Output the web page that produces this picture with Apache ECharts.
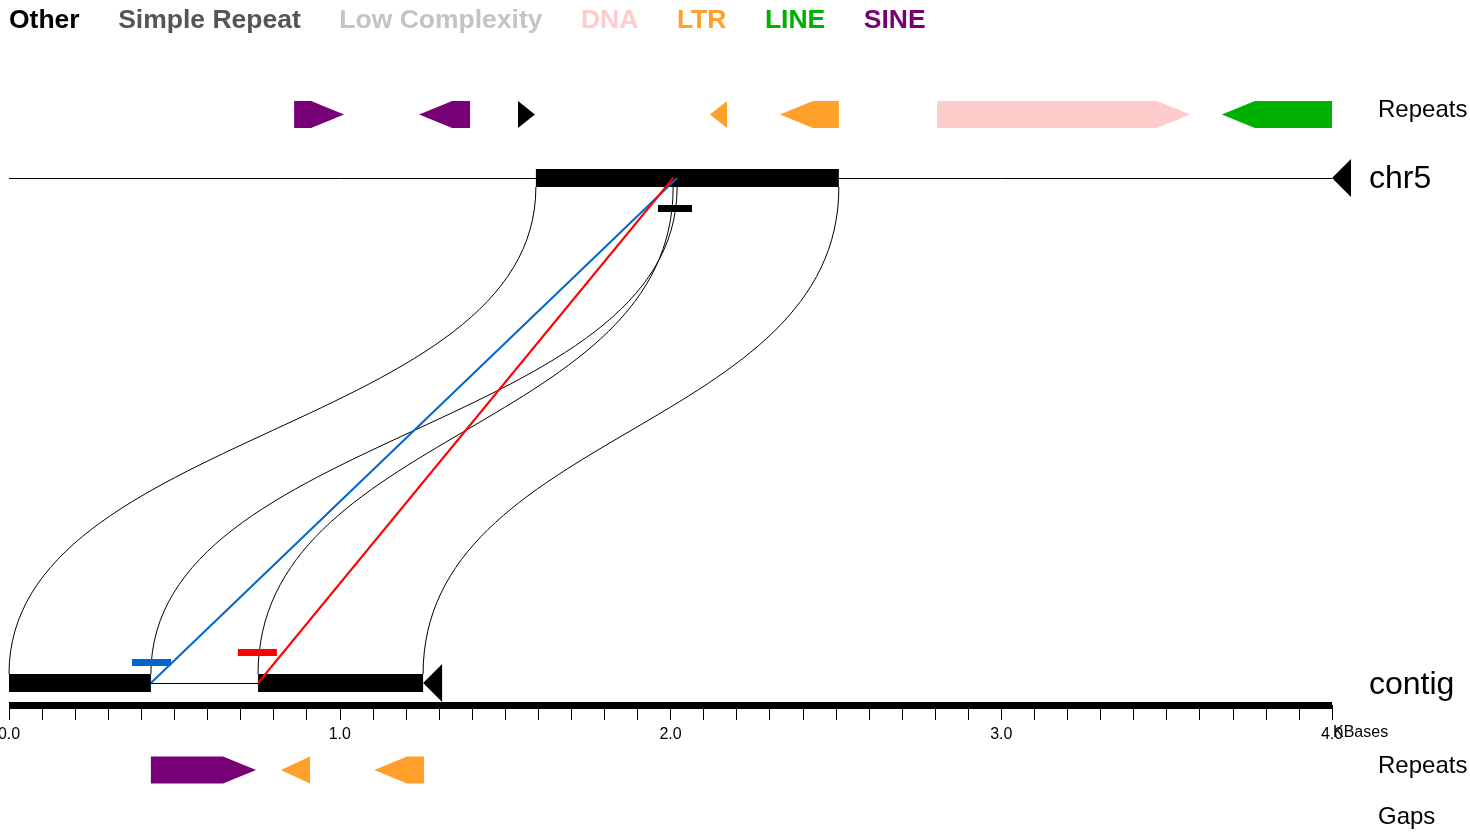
<!DOCTYPE html>
<html><head><meta charset="utf-8">
<script src="https://cdn.jsdelivr.net/npm/echarts@6/dist/echarts.min.js"></script>
<style>html,body{margin:0;padding:0;background:#fff}#c{width:1470px;height:834px}</style>
</head><body><div id="c"></div>
<script>
// ---------------- data (kilobases) ----------------
const repeatClasses = ['Other', 'Simple Repeat', 'Low Complexity', 'DNA', 'LTR', 'LINE', 'SINE'];
const classColors   = ['#000000', '#555555', '#c4c4c4', '#ffcccc', '#ffa02a', '#00b000', '#770077'];

const refName = 'chr5';
const refRange = [0, 4.0];
const refBlocks = [[1.593, 2.509]];
// [start, end, strand(+1/-1), class]
const refRepeats = [
  [0.862, 1.013,  1, 'SINE'],
  [1.240, 1.394, -1, 'SINE'],
  [1.539, 1.590,  1, 'Other'],
  [2.119, 2.171, -1, 'LTR'],
  [2.331, 2.509, -1, 'LTR'],
  [2.806, 3.571,  1, 'DNA'],
  [3.667, 4.000, -1, 'LINE']
];

const contigName = 'contig';
const contigRange = [0, 1.252];
const contigBlocks = [[0, 0.429], [0.753, 1.252]];
const contigRepeats = [
  [0.429, 0.747,  1, 'SINE'],
  [0.822, 0.910, -1, 'LTR'],
  [1.104, 1.255, -1, 'LTR']
];

// [contigStart, contigEnd, refStart, refEnd]
const alignments = [
  [0.000, 0.429, 1.593, 2.020],
  [0.753, 1.252, 2.008, 2.509]
];
// breakpoint links: [contigPos, refPos, color]
const breakpointLinks = [
  [0.429, 2.020, '#0066cc'],
  [0.753, 2.008, '#ff0000']
];
// variant marks on contig: [start, end, color, tier]
const contigMarks = [
  [0.372, 0.490, '#0066cc', 0],
  [0.692, 0.810, '#ff0000', 1]
];
// variant marks on reference: [start, end, color]
const refMarks = [[1.962, 2.065, '#000000']];

const axisTicks = [0, 1, 2, 3, 4];
const axisUnit = 'KBases';

// ---------------- layout (pixels) ----------------
const FONT = 'Liberation Sans, Arial, Helvetica, sans-serif';
const LANE = { refRepeat: 114.5, ref: 178, refMark: 208.5, contigMarks: [662.5, 652.5],
               contig: 683, axis: 705, contigRepeat: 770 };
const BAR_H = 9, REP_H = 13.5, HEAD = 33, MARK_H = 3.5, STRAND_W = 19, STRAND_H = 19;

// ---------------- render helpers ----------------
function repeatItem(params, api) {
  const s = api.value(0), e = api.value(1), strand = api.value(2), lane = api.value(3);
  const p0 = api.coord([s, lane]), p1 = api.coord([e, lane]);
  const y = p0[1];
  const head = Math.min(HEAD, p1[0] - p0[0]);
  let pts;
  if (strand > 0) {
    const b = p1[0] - head;
    pts = [[p0[0], y - REP_H], [b, y - REP_H], [p1[0], y], [b, y + REP_H], [p0[0], y + REP_H]];
  } else {
    const b = p0[0] + head;
    pts = [[p1[0], y - REP_H], [b, y - REP_H], [p0[0], y], [b, y + REP_H], [p1[0], y + REP_H]];
  }
  return { type: 'polygon', shape: { points: pts }, style: { fill: api.visual('color') } };
}

function trackItem(params, api) {
  // [start, end, lane]
  const p0 = api.coord([api.value(0), api.value(2)]);
  const p1 = api.coord([api.value(1), api.value(2)]);
  return {
    type: 'group', children: [
      { type: 'line', shape: { x1: p0[0], y1: p0[1] + 0.5, x2: p1[0], y2: p1[1] + 0.5 }, style: { stroke: '#000', lineWidth: 1 } },
      { type: 'polygon', shape: { points: [[p1[0], p1[1]], [p1[0] + STRAND_W, p1[1] - STRAND_H], [p1[0] + STRAND_W, p1[1] + STRAND_H]] }, style: { fill: '#000' } }
    ]
  };
}

function blockItem(params, api) {
  const p0 = api.coord([api.value(0), api.value(2)]);
  const p1 = api.coord([api.value(1), api.value(2)]);
  return { type: 'rect', shape: { x: p0[0], y: p0[1] - BAR_H, width: p1[0] - p0[0], height: 2 * BAR_H }, style: { fill: '#000' } };
}

function alignItem(params, api) {
  const cs = api.value(0), ce = api.value(1), rs = api.value(2), re = api.value(3);
  const yc = api.coord([0, LANE.contig])[1] - BAR_H;
  const yr = api.coord([0, LANE.ref])[1] + BAR_H;
  const ym = (yc + yr) / 2;
  function curve(c, r) {
    const xc = api.coord([c, LANE.contig])[0], xr = api.coord([r, LANE.ref])[0];
    return { type: 'bezierCurve', shape: { x1: xc, y1: yc, cpx1: xc, cpy1: ym, cpx2: xr, cpy2: ym, x2: xr, y2: yr },
             style: { stroke: '#000', lineWidth: 1, fill: null } };
  }
  return { type: 'group', children: [curve(cs, rs), curve(ce, re)] };
}

function linkItem(params, api) {
  const p0 = api.coord([api.value(0), LANE.contig]);
  const p1 = api.coord([api.value(1), LANE.ref]);
  return { type: 'line', shape: { x1: p0[0], y1: p0[1], x2: p1[0], y2: p1[1] },
           style: { stroke: breakpointLinks[params.dataIndex][2], lineWidth: 2 } };
}

function markItem(params, api) {
  const p0 = api.coord([api.value(0), api.value(2)]);
  const p1 = api.coord([api.value(1), api.value(2)]);
  return { type: 'rect', shape: { x: p0[0], y: p0[1] - MARK_H, width: p1[0] - p0[0], height: 2 * MARK_H },
           style: { fill: api.value(3) } };
}

// ---------------- series ----------------
const series = [];
repeatClasses.forEach((cls, i) => {
  const d = refRepeats.filter(r => r[3] === cls).map(r => [r[0], r[1], r[2], LANE.refRepeat])
    .concat(contigRepeats.filter(r => r[3] === cls).map(r => [r[0], r[1], r[2], LANE.contigRepeat]));
  series.push({ type: 'custom', name: cls, silent: true, color: classColors[i], renderItem: repeatItem, data: d, z: 3 });
});
series.push({ type: 'custom', name: 'alignments', silent: true, renderItem: alignItem, data: alignments, z: 2 });
series.push({ type: 'custom', name: 'tracks', silent: true, renderItem: trackItem,
  data: [[refRange[0], refRange[1], LANE.ref], [contigRange[0], contigRange[1], LANE.contig]], z: 3 });
series.push({ type: 'custom', name: 'blocks', silent: true, renderItem: blockItem,
  data: refBlocks.map(b => [b[0], b[1], LANE.ref]).concat(contigBlocks.map(b => [b[0], b[1], LANE.contig])), z: 4 });
series.push({ type: 'custom', name: 'marks', silent: true, renderItem: markItem,
  dimensions: ['s', 'e', 'y', { name: 'c', type: 'ordinal' }],
  data: contigMarks.map(m => [m[0], m[1], LANE.contigMarks[m[3]], m[2]]).concat(refMarks.map(m => [m[0], m[1], LANE.refMark, m[2]])), z: 5 });
series.push({ type: 'custom', name: 'links', silent: true, renderItem: linkItem,
  data: breakpointLinks.map(l => [l[0], l[1]]), z: 6 });

const labelStyle = (text, x, y, size) => ({ type: 'text', x: x, y: y, silent: true,
  style: { text: text, fontSize: size, fontFamily: FONT, fill: '#000', align: 'left', verticalAlign: 'middle' } });

const option = {
  animation: false,
  backgroundColor: '#fff',
  legend: {
    left: 4, top: 7, padding: 0, itemWidth: 0, itemHeight: 0, itemGap: 33.5, selectedMode: false,
    textStyle: { fontSize: 26.5, fontWeight: 'bold', fontFamily: FONT },
    data: repeatClasses.map((c, i) => ({ name: c, icon: 'rect', textStyle: { color: classColors[i] } }))
  },
  grid: { left: 9, right: 138, top: 0, bottom: 834 - LANE.axis, containLabel: false, outerBoundsMode: 'none' },
  xAxis: {
    type: 'value', position: 'bottom', min: axisTicks[0], max: axisTicks[axisTicks.length - 1], interval: 1,
    axisLine: { show: true, onZero: false, lineStyle: { color: '#000', width: 7, cap: 'butt' } },
    axisTick: { show: true, length: 15, lineStyle: { color: '#000', width: 1 } },
    minorTick: { show: true, splitNumber: 10, length: 15, lineStyle: { color: '#000', width: 1 } },
    splitLine: { show: false },
    axisLabel: { color: '#000', fontSize: 16, fontFamily: FONT, margin: 22, formatter: v => v.toFixed(1) }
  },
  yAxis: { type: 'value', min: 0, max: LANE.axis, inverse: true, show: false },
  graphic: [
    labelStyle('Repeats', 1378, 110, 24),
    labelStyle(refName, 1369, 179, 32),
    labelStyle(contigName, 1369, 685, 32),
    labelStyle(axisUnit, 1333, 733, 16),
    labelStyle('Repeats', 1378, 766, 24),
    labelStyle('Gaps', 1378, 817, 24)
  ],
  series: series
};
const chart = echarts.init(document.getElementById('c'), null, { renderer: 'canvas' });
chart.setOption(option);
</script></body></html>
